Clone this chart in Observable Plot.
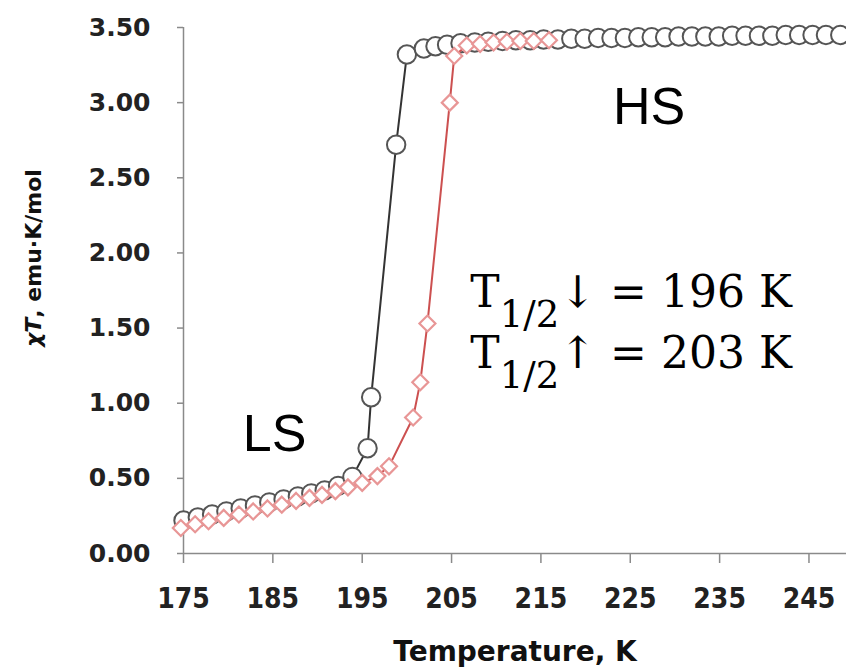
<!DOCTYPE html>
<html><head><meta charset="utf-8">
<script src="https://cdn.jsdelivr.net/npm/d3@7"></script>
<script src="https://cdn.jsdelivr.net/npm/@observablehq/plot@0.6"></script>
<style>html,body{margin:0;padding:0;background:#fff;overflow:hidden} svg{display:block}</style>
</head><body><div id="chart"></div>
<script>
// Cooling branch (black circles)
const coolT = [175.0,176.6,178.2,179.8,181.4,183.0,184.6,186.2,187.8,189.3,190.8,192.3,193.9,195.6,196.0,198.8,200.0,201.9,203.2,204.5,206.0,207.6,209.1,210.7,212.2,213.8,215.3,216.9,218.4,219.9,221.4,222.9,224.4,225.9,227.4,228.9,230.4,231.9,233.4,234.9,236.4,237.9,239.4,240.9,242.4,243.9,245.4,246.9,248.5];
const coolChi = [0.22,0.24,0.26,0.28,0.30,0.32,0.34,0.36,0.38,0.40,0.42,0.45,0.51,0.70,1.04,2.72,3.32,3.36,3.375,3.385,3.395,3.40,3.405,3.41,3.415,3.415,3.42,3.42,3.425,3.425,3.43,3.43,3.43,3.435,3.435,3.435,3.44,3.44,3.44,3.44,3.445,3.445,3.445,3.445,3.45,3.45,3.45,3.45,3.45];
// Heating branch (red diamonds)
const heatT = [174.7,176.3,177.8,179.5,181.2,182.8,184.4,186.0,187.6,189.1,190.5,192.0,193.4,195.0,196.7,198.0,200.7,201.5,202.3,204.8,205.3,206.7,208.2,209.7,211.2,212.7,214.2,215.9];
const heatChi = [0.17,0.195,0.215,0.237,0.26,0.28,0.30,0.325,0.35,0.37,0.39,0.415,0.44,0.47,0.515,0.58,0.905,1.14,1.53,3.00,3.31,3.38,3.39,3.40,3.405,3.41,3.41,3.415];

const xTicks = [175,185,195,205,215,225,235,245];
const yTicks = [0,0.5,1,1.5,2,2.5,3,3.5];
const xTitle = "Temperature, K";
const yTitle = "χT, emu·K/mol";
const yTitleT = [158.3];
const yTitleChi = [1.966];
const stateLabels = ["HS","LS"];
const stateT = [227.1,185.2];
const stateChi = [2.97,0.79];
const halfLabels = ["T1/2↓ = 196 K","T1/2↑ = 203 K"];
const halfT = [207.1,207.1];
const halfChi = [1.637,1.237];

const cooling = coolT.map((T,i)=>({T, chi: coolChi[i]}));
const heating = heatT.map((T,i)=>({T, chi: heatChi[i]}));
const states = stateLabels.map((s,i)=>({s, T: stateT[i], chi: stateChi[i]}));
const halves = halfLabels.map((s,i)=>({s, T: halfT[i], chi: halfChi[i]}));
const yTitleData = [{s: yTitle, T: yTitleT[0], chi: yTitleChi[0]}];

const svg = Plot.plot({
  width: 846, height: 667,
  marginLeft: 183, marginRight: 0, marginTop: 27, marginBottom: 114,
  x: {domain: [175, 249.2]},
  y: {domain: [0, 3.5]},
  style: {background: "#fff", overflow: "hidden"},
  marks: [
    Plot.ruleY([0], {stroke: "#8a8a8a", strokeWidth: 1.5}),
    Plot.ruleX([175], {stroke: "#8a8a8a", strokeWidth: 1.5}),
    Plot.axisX({ticks: xTicks, tickFormat: d3.format("d"), tickSize: 10, tickPadding: 25, fontSize: 28,
      fontFamily: "DejaVu Sans Condensed", fontWeight: "bold", fill: "#222", stroke: "#8a8a8a", strokeWidth: 1.5, label: null}),
    Plot.axisY({ticks: yTicks, tickFormat: d3.format(".2f"), tickSize: 6, tickPadding: 27, fontSize: 25,
      fontFamily: "DejaVu Sans", fontWeight: "bold", fill: "#222", stroke: "#8a8a8a", strokeWidth: 1.5, label: null}),
    Plot.text([xTitle], {frameAnchor: "bottom", dy: 107, lineAnchor: "bottom", text: d => d,
      fontSize: 28, fontWeight: "bold", fontFamily: "DejaVu Sans", fill: "#111"}),
    Plot.text(yTitleData, {x: "T", y: "chi", text: "s", rotate: -90, textAnchor: "middle",
      fontSize: 22, fontWeight: "bold", fontFamily: "DejaVu Sans", fill: "#111"}),
    Plot.line(cooling, {x: "T", y: "chi", stroke: "#333", strokeWidth: 2}),
    Plot.dot(cooling, {x: "T", y: "chi", r: 9.2, stroke: "#555", strokeWidth: 2, fill: "white"}),
    Plot.line(heating, {x: "T", y: "chi", stroke: "#cc5050", strokeWidth: 2}),
    Plot.dot(heating, {x: "T", y: "chi", symbol: "diamond2", r: 7.2, stroke: "#e89696", strokeWidth: 2.2, fill: "white"}),
    Plot.text(states, {x: "T", y: "chi", text: "s", fontSize: 52, fontFamily: "Liberation Sans", fill: "#000"}),
    Plot.text(halves, {x: "T", y: "chi", text: "s", textAnchor: "start", lineAnchor: "bottom", fontSize: 44,
      fontFamily: "DejaVu Serif", fill: "#000"})
  ]
});

d3.select(svg).selectAll("text").each(function() {
  const t = this.textContent;
  const el = d3.select(this);
  if (t === yTitle) {
    el.text(null).attr("text-anchor", "middle");
    el.append("tspan").attr("font-style", "italic").text("χT");
    el.append("tspan").text(", emu·K/mol");
  } else if (halfLabels.includes(t)) {
    el.text(null);
    el.append("tspan").text(t.slice(0,1));
    el.append("tspan").attr("font-size", 37).attr("dy", 20).text(t.slice(1,4));
    el.append("tspan").attr("dy", -20).text(t.slice(4));
  }
});

document.getElementById("chart").appendChild(svg);
</script>
</body></html>
